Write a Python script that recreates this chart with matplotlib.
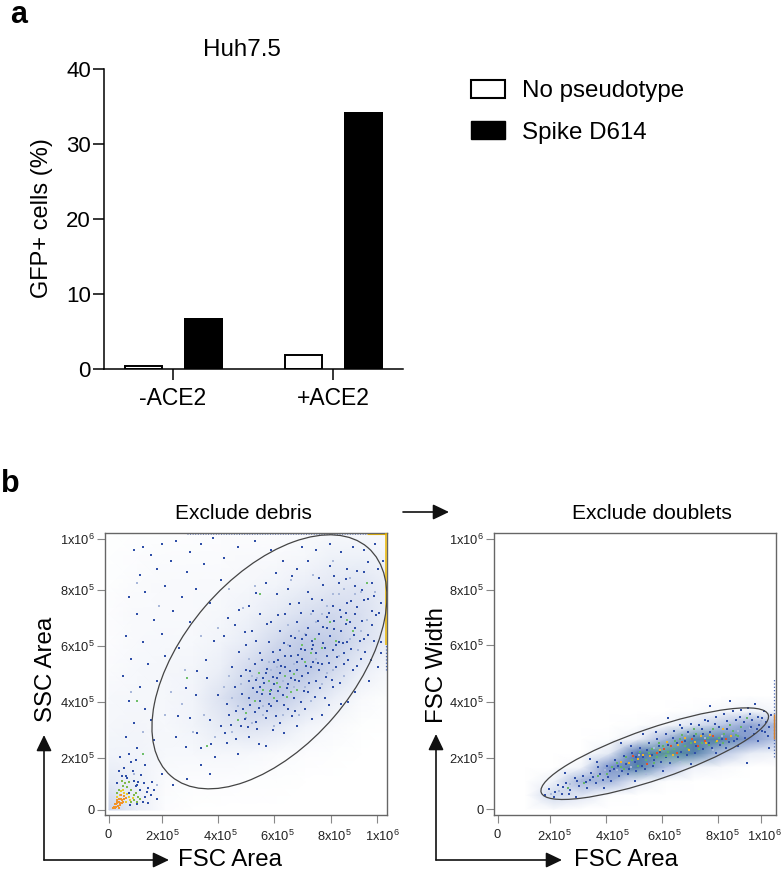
# bar chart of GFP+ cells plus the two flow gating plots

import matplotlib
matplotlib.use('Agg')
from matplotlib import pyplot as plt
from matplotlib.colors import LinearSegmentedColormap
from matplotlib.patches import Ellipse, Patch
from matplotlib.transforms import ScaledTranslation
import numpy as np

plt.rcParams['font.family'] = ['Liberation Sans', 'DejaVu Sans']
plt.rcParams['mathtext.fontset'] = 'custom'
plt.rcParams['mathtext.rm'] = 'Liberation Sans'
plt.rcParams['mathtext.default'] = 'regular'

W, H = 782, 871

# panel a
groups = ['-ACE2', '+ACE2']
no_pseudotype = [0.4, 1.8]
spike_d614 = [6.7, 34.2]

# flow axes, values in units of 1e5
flow_tick_labels = ['0', '2x10$^{5}$', '4x10$^{5}$', '6x10$^{5}$', '8x10$^{5}$', '1x10$^{6}$']
left_xticks = [0, 1.89, 3.89, 5.89, 7.93, 9.57]
left_yticks = [0, 1.86, 3.86, 5.86, 7.86, 9.68]
right_xticks = [0, 1.88, 3.88, 5.86, 7.88, 9.40]
right_yticks = [0, 1.82, 3.82, 5.86, 7.82, 9.64]

# estimated density of events per cell
debris_x = [0, 1, 2, 3, 4, 5, 6, 7, 8, 9, 10]
debris_y = [0, 1, 2, 3, 4, 5, 6, 7, 8, 9, 10]
debris_density = [
    [3.0, 1.2, 0.2, 0.0, 0.0, 0.0, 0.0, 0.0, 0.0, 0.0, 0.0],
    [1.5, 1.0, 0.3, 0.2, 0.2, 0.1, 0.1, 0.0, 0.0, 0.0, 0.0],
    [0.8, 0.8, 0.5, 0.5, 0.6, 0.5, 0.3, 0.2, 0.1, 0.0, 0.0],
    [0.6, 0.7, 0.5, 0.8, 1.5, 2.0, 1.6, 0.8, 0.4, 0.1, 0.0],
    [0.5, 0.6, 0.6, 0.8, 2.0, 3.4, 3.6, 2.4, 1.2, 0.4, 0.1],
    [0.3, 0.5, 0.6, 0.7, 1.2, 2.6, 3.8, 3.8, 2.6, 1.2, 0.5],
    [0.2, 0.4, 0.5, 0.5, 0.8, 1.4, 2.6, 3.6, 3.4, 2.2, 1.2],
    [0.2, 0.4, 0.4, 0.4, 0.6, 0.9, 1.5, 2.2, 2.6, 2.2, 1.2],
    [0.1, 0.3, 0.4, 0.4, 0.4, 0.6, 0.8, 1.2, 1.6, 1.8, 1.2],
    [0.1, 0.2, 0.3, 0.3, 0.3, 0.4, 0.4, 0.6, 1.0, 1.0, 0.8],
    [0.0, 0.1, 0.1, 0.1, 0.2, 0.2, 0.2, 0.3, 0.4, 0.4, 0.3],
]
doublets_x = [1, 2, 3, 4, 5, 6, 7, 8, 9, 10]
doublets_y = [0, 0.5, 1, 1.5, 2, 2.5, 3, 3.5, 4]
doublets_density = [
    [0.0, 0.2, 0.0, 0.0, 0.0, 0.0, 0.0, 0.0, 0.0, 0.0],
    [0.0, 1.4, 0.9, 0.1, 0.0, 0.0, 0.0, 0.0, 0.0, 0.0],
    [0.0, 0.5, 2.4, 2.4, 0.7, 0.1, 0.0, 0.0, 0.0, 0.0],
    [0.0, 0.0, 0.4, 3.2, 4.6, 2.2, 0.5, 0.2, 0.0, 0.0],
    [0.0, 0.0, 0.0, 0.8, 4.2, 5.4, 4.6, 2.0, 0.7, 0.4],
    [0.0, 0.0, 0.0, 0.1, 0.6, 2.4, 4.8, 4.6, 3.0, 2.0],
    [0.0, 0.0, 0.0, 0.0, 0.1, 0.3, 1.0, 2.0, 2.8, 2.2],
    [0.0, 0.0, 0.0, 0.0, 0.0, 0.0, 0.1, 0.3, 0.5, 0.3],
    [0.0, 0.0, 0.0, 0.0, 0.0, 0.0, 0.0, 0.0, 0.1, 0.0],
]

# single events picked out by eye
debris_blue = [
    (0.9,9.3),(1.2,9.4),(1.5,9.1),(1.9,9.5),(2.4,9.6),(2.9,9.2),(3.3,9.5),(3.7,9.7),(1.1,8.4),(1.7,8.6),
    (2.2,8.9),(2.8,8.5),(3.4,8.8),(4.1,9.0),(4.6,9.4),(5.2,9.6),(5.8,9.3),(0.7,7.6),(1.3,7.8),(2.0,8.0),
    (2.6,7.6),(3.1,7.9),(3.6,7.4),(4.0,8.2),(1.0,7.0),(1.6,6.8),(2.3,7.1),(2.9,6.7),(0.6,6.2),(1.2,6.0),
    (1.9,6.3),(2.5,5.8),(0.8,5.4),(1.4,5.2),(2.0,5.5),(0.5,4.8),(1.1,4.4),(1.7,4.6),(0.7,3.9),(1.3,3.6),
    (0.9,3.1),(1.5,3.2),(0.6,2.6),(1.0,2.2),(1.6,2.5),(0.8,1.7),(1.3,1.6),(1.9,1.3),(0.6,1.2),(1.0,0.9),
    (1.4,0.8),(0.7,0.6),(2.3,0.9),(2.8,1.1),(3.3,1.6),(3.6,1.3),(2.4,2.6),(2.9,3.3),(3.3,2.2),(3.8,1.9),
    (4.2,2.4),(4.6,2.0),(3.1,4.1),(3.6,3.2),(4.0,3.0),(4.3,3.4),(4.7,3.0),(5.0,2.6),(5.3,2.9),(5.6,2.3),
    (3.5,4.7),(3.9,4.1),(4.2,3.8),(4.5,4.4),(4.8,3.6),(5.0,4.0),(5.2,3.5),(5.4,3.9),(5.6,3.3),(5.8,3.7),
    (6.1,3.1),(6.4,3.6),(6.7,3.0),(7.0,3.6),(4.4,5.1),(4.7,4.8),(5.0,4.6),(5.2,5.2),(5.4,4.4),(5.6,4.9),
    (5.8,4.3),(6.0,4.7),(6.2,4.1),(6.4,4.5),(6.6,4.0),(6.8,4.6),(7.1,4.2),(7.4,4.6),(7.7,4.0),(8.0,4.4),
    (4.1,6.2),(4.5,6.6),(4.9,5.9),(5.1,6.4),(5.4,5.6),(5.7,6.0),(5.9,5.3),(6.1,5.7),(6.3,5.1),(6.5,5.5),
    (6.7,5.0),(6.9,5.4),(7.1,4.9),(7.3,5.3),(7.5,5.0),(7.8,5.5),(8.1,5.1),(8.4,5.6),(8.7,5.0),(9.0,5.4),
    (5.0,7.3),(5.4,7.0),(5.8,6.7),(6.1,6.4),(6.3,7.0),(6.5,6.2),(6.7,6.7),(6.9,6.1),(7.1,6.5),(7.3,5.9),
    (7.5,6.3),(7.7,5.8),(7.9,6.2),(8.1,5.9),(8.3,6.4),(8.5,6.0),(8.8,6.5),(9.1,6.1),(9.4,6.6),(9.7,6.0),
    (5.6,8.1),(6.0,7.7),(6.4,7.9),(6.8,7.4),(7.1,7.8),(7.3,7.1),(7.6,7.5),(7.8,6.9),(8.0,7.3),(8.3,6.9),
    (8.5,7.4),(8.8,7.0),(9.1,7.5),(9.4,7.1),(9.7,7.4),(6.2,8.9),(6.7,8.6),(7.1,8.9),(7.5,8.3),(7.9,8.7),
    (8.2,8.1),(8.5,8.6),(8.8,8.0),(9.1,8.5),(9.4,8.1),(9.6,8.6),(6.9,9.4),(7.4,9.3),(7.9,9.5),(8.3,9.2),
    (8.7,9.4),(9.1,9.3),(9.5,9.5),(9.8,8.9),(9.7,5.6),(9.6,5.1),(9.3,4.6),(8.8,4.2),(8.3,3.8),(7.6,3.4),
    (4.9,5.0),(5.3,4.2),(5.5,4.7),(5.7,3.8),(5.9,4.5),(6.1,4.9),(6.3,5.5),(6.5,4.7),(6.7,5.3),(6.9,4.8),
    (7.0,5.7),(7.2,5.1),(7.4,5.6),(7.6,5.2),(7.8,6.5),(8.0,5.7),(8.2,6.0),(8.4,5.2),(8.6,6.7),(6.0,3.9),
    (4.35,3.05),(4.55,3.55),(4.75,4.15),(4.85,3.25),(5.05,3.75),(5.15,4.35),(5.25,3.15),(5.35,3.65),(5.45,4.15),(5.55,4.55),
    (5.65,3.55),(5.75,4.15),(5.85,4.75),(5.95,3.35),(6.05,4.25),(6.15,5.15),(6.25,3.75),(6.35,4.35),(6.45,4.95),(6.55,3.35),
    (6.65,4.65),(6.75,5.55),(6.85,3.85),(6.95,4.25),(7.05,5.15),(7.15,4.55),(7.25,5.75),(7.35,4.05),(7.45,5.25),(7.55,4.35),
    (7.65,5.95),(7.75,4.75),(7.85,5.25),(7.95,4.65),(8.05,6.45),(8.15,5.45),(8.25,4.55),(8.35,5.95),(8.45,6.65),(8.55,5.35),
    (8.65,5.75),(8.75,6.25),(8.85,5.15),(8.95,6.05),(9.05,6.75),(9.15,5.65),(9.25,6.25),(9.35,5.35),(9.45,6.05),(9.55,6.95),
    (5.05,4.95),(5.25,4.65),(5.45,5.35),(5.65,5.05),(5.85,5.65),(6.05,5.35),(6.25,5.95),(6.45,5.85),(6.65,6.15),(6.85,5.75),
    (7.05,6.25),(7.25,6.05),(7.45,6.75),(7.65,6.55),(7.85,7.05),(8.05,6.75),(8.25,7.15),(8.45,7.05),(8.65,7.45),(8.85,7.25),
    (9.05,7.85),(9.25,7.55),(9.45,7.65),(9.65,7.05),(4.65,5.65),(4.85,6.35),(5.25,6.05),(5.65,6.65),(6.05,6.95),(6.45,7.35),
    (6.85,7.05),(7.25,7.55),(7.65,8.05),(8.05,8.35),(8.45,8.25),(8.85,8.55),(9.25,8.85),(6.55,8.35),(5.95,8.45),(5.25,7.75),
    (4.65,7.15),(4.25,6.85),(3.75,6.05),(3.45,5.35),(3.15,4.95),(2.75,4.35),(2.45,3.35),(2.75,2.25),(3.15,2.75),(3.65,2.35),
    (4.15,2.75),(4.55,2.55),(4.95,2.95),(5.35,2.35),(5.85,2.85),(6.25,2.75),(6.65,3.55),(7.25,3.25),(7.85,3.75),(8.55,3.85),
]
debris_pale = [
    (3.4,3.4),(3.8,2.6),(4.1,4.4),(4.4,2.8),(4.6,3.7),(4.9,3.3),(5.1,3.1),(5.3,4.7),(5.5,3.4),(5.7,5.3),
    (5.9,3.0),(6.2,3.4),(6.4,5.9),(6.6,4.4),(6.8,3.4),(7.0,6.3),(7.2,3.9),(7.4,6.7),(7.6,4.5),(7.8,7.3),
    (8.0,5.0),(8.2,7.7),(8.4,4.8),(8.6,8.3),(8.9,5.7),(9.2,6.8),(9.5,7.8),(9.0,7.8),(8.0,8.9),(6.5,8.2),
    (5.2,8.0),(4.8,7.2),(4.3,7.9),(3.9,6.5),(3.3,6.2),(2.7,5.0),(2.2,4.2),(2.6,3.8),(3.0,2.8),(2.0,3.4),
    (1.0,8.1),(1.8,7.3),(0.8,4.2),(1.2,2.8),(0.9,1.3),(1.7,0.9),(7.3,8.4),(6.0,5.1),(5.0,5.4),(4.4,4.0),
    (4.3,4.8),(4.7,4.5),(5.1,4.8),(5.5,3.7),(5.8,5.0),(6.2,4.6),(6.6,5.2),(7.0,4.4),(7.4,5.4),(7.8,4.9),
    (8.2,5.5),(8.6,6.1),(9.0,6.4),(6.4,6.6),(6.8,6.4),(7.2,7.0),(7.6,7.0),(8.0,7.7),(8.4,7.9),(8.8,7.7),
]
debris_green = [
    (5.2,3.9),(5.5,4.3),(5.7,4.6),(5.9,4.0),(6.1,4.4),(6.3,4.8),(6.5,4.2),(6.7,4.3),(4.6,3.2),(6.9,5.9),
    (7.2,5.6),(7.6,5.8),(7.9,6.7),(8.5,6.8),(9.2,8.1),(5.4,7.7),(3.5,2.3),(2.8,4.7),(1.0,3.9),(1.2,2.0),
    (5.35,4.9),(5.75,4.25),(6.0,4.55),(6.35,4.05),(6.6,4.85),(7.0,5.3),(7.35,6.1),(8.1,6.05),(8.7,6.4),(4.9,3.45),
]
debris_warm = [
    (0.18,0.12),(0.25,0.2),(0.32,0.14),(0.28,0.3),(0.4,0.26),(0.35,0.4),(0.48,0.36),(0.55,0.5),(0.44,0.52),(0.62,0.42),
    (0.22,0.08),(0.3,0.24),(0.38,0.18),(0.5,0.3),(0.2,0.2),(0.26,0.1),(0.34,0.28),(0.42,0.38),(0.3,0.36),(0.46,0.24),
    (0.15,0.06),(0.36,0.08),(0.54,0.38),
]
debris_low_yellow = [
    (0.55,0.62),(0.72,0.48),(0.42,0.66),(0.66,0.56),(0.6,0.3),(0.75,0.36),(0.38,0.55),(0.5,0.72),(0.85,0.44),(0.28,0.46),
]
debris_low_green = [
    (0.5,0.85),(0.65,0.82),(0.8,0.7),(0.95,0.62),(0.78,0.3),(0.9,0.34),(0.35,0.72),(0.58,0.95),(1.05,0.45),(0.7,1.0),
    (0.3,0.62),(1.0,0.3),(1.12,0.4),(0.88,0.55),(0.45,1.05),
]
debris_low_blue = [
    (0.3,0.95),(0.45,1.2),(0.9,1.05),(1.1,0.7),(1.3,0.45),(1.2,0.28),(1.0,0.2),(0.75,0.18),(1.5,0.55),(0.85,1.4),
    (1.7,0.4),(0.55,1.5),(0.4,1.9),(0.95,1.8),(1.15,1.25),(0.65,1.15),(1.05,1.0),(1.35,0.65),(1.4,0.25),(1.6,0.7),
    (0.7,2.0),(0.35,1.4),(1.25,0.95),(0.95,0.85),(1.55,1.0),
]

doublets_blue = [
    (1.7,0.5),(1.85,0.72),(2.0,0.42),(2.15,0.85),(2.3,0.55),(2.45,0.95),(2.6,0.7),(2.75,1.1),(2.9,0.82),(3.05,1.2),
    (3.2,0.75),(3.35,1.3),(3.5,0.95),(3.6,1.5),(3.75,1.05),(3.9,1.55),(4.05,1.0),(4.2,1.75),(4.35,1.2),(4.5,1.9),
    (4.65,1.25),(4.8,2.0),(4.95,1.35),(5.1,2.2),(5.25,1.45),(5.4,2.35),(5.55,1.55),(5.7,2.5),(5.85,1.7),(6.0,2.7),
    (6.15,1.65),(6.3,2.8),(6.45,1.85),(6.6,2.9),(6.75,1.95),(6.9,3.05),(7.05,2.0),(7.2,3.0),(7.35,2.15),(7.5,3.15),
    (7.65,2.2),(7.8,3.3),(7.95,2.3),(8.1,3.4),(8.25,2.4),(8.4,3.5),(8.55,2.5),(8.7,3.55),(8.85,2.55),(9.0,3.4),
    (9.15,2.7),(9.3,3.3),(9.45,2.8),(9.6,3.1),(3.4,1.15),(4.0,1.35),(4.6,1.6),(5.2,1.85),(5.8,2.05),(6.4,2.35),
    (7.0,2.6),(7.6,2.75),(8.2,2.85),(8.8,3.1),(9.35,3.0),(4.3,1.55),(4.9,1.7),(5.5,1.95),(6.1,2.3),(6.7,2.45),
    (7.3,2.85),(7.9,2.95),(8.5,3.2),(9.1,3.2),(9.55,2.75),(9.7,2.95),(9.75,3.35),(9.5,3.5),(9.2,3.75),(8.3,3.85),
    (7.6,3.7),(6.1,3.25),(5.2,2.7),(4.4,2.35),(3.3,1.8),(2.4,1.3),(8.6,2.25),(7.8,2.0),(6.9,1.6),(5.9,1.35),
    (4.9,1.0),(3.8,0.75),(2.8,0.45),(9.3,2.45),(8.9,1.65),(9.7,2.2),
    (2.05,0.62),(2.35,0.78),(2.55,0.55),(2.85,1.0),(3.15,0.98),(3.3,1.05),(3.65,1.25),(3.95,1.15),(4.15,1.45),(4.45,1.35),
    (4.7,1.45),(4.95,1.85),(5.15,1.55),(5.35,2.1),(5.6,1.75),(5.75,2.25),(6.0,1.85),(6.25,2.55),(6.55,2.05),(6.8,2.75),
    (7.1,2.25),(7.35,2.7),(7.55,2.35),(7.75,3.05),(8.0,2.5),(8.2,3.15),(8.45,2.45),(8.65,3.3),(8.85,2.8),(9.05,2.95),
    (9.25,2.85),(9.45,3.25),(9.65,2.6),(8.95,3.6),(8.15,2.2),(7.4,3.2),(6.5,3.0),(5.65,2.75),(4.75,2.25),(3.55,1.7),
]
doublets_pale = [
    (1.9,0.55),(2.2,0.65),(2.6,0.9),(3.0,1.05),(3.45,1.25),(3.85,1.4),(4.25,1.4),(4.75,1.5),(5.05,1.95),(5.6,2.2),
    (6.2,2.6),(6.8,2.7),(7.4,2.55),(8.0,2.6),(8.6,2.8),(9.0,2.9),(9.4,3.15),(5.3,1.25),(6.5,1.7),(7.7,2.1),(8.2,2.1),
]
doublets_green = [
    (2.5,0.75),(3.1,0.95),(3.6,1.2),(4.1,1.5),(4.5,1.45),(4.8,1.75),(5.0,1.55),(5.3,1.75),(5.5,2.15),(5.7,1.85),
    (5.9,2.25),(6.1,2.05),(6.3,2.15),(6.5,2.5),(6.7,2.25),(6.9,2.35),(7.1,2.7),(7.3,2.35),(7.5,2.55),(7.7,2.85),
    (7.9,2.55),(8.1,2.7),(8.3,3.0),(8.5,2.65),(8.7,2.95),(4.6,1.85),(5.1,2.05),(6.0,1.9),(6.6,2.65),(7.2,2.15),
    (7.8,2.4),(8.4,2.8),(8.9,3.25),(3.9,1.25),(5.6,1.65),(4.25,1.65),(4.4,1.5),(5.4,2.0),(5.75,2.35),(6.35,2.45),
    (6.8,2.15),(7.0,2.85),(7.55,2.3),(8.05,2.35),(8.6,2.6),
]
doublets_yellow = [
    (4.7,1.65),(5.2,1.95),(5.45,1.9),(5.8,2.1),(6.05,2.4),(6.25,1.95),(6.45,2.3),(6.7,2.55),(6.85,2.1),(7.05,2.4),
    (7.25,2.6),(7.45,2.35),(7.6,2.65),(7.85,2.45),(8.05,2.85),(8.35,2.6),(5.0,1.8),(4.4,1.7),
]
doublets_red = [
    (5.35,1.6),(5.7,2.0),(5.95,2.15),(6.2,2.25),(6.4,2.0),(6.6,2.4),(6.95,2.5),(7.15,2.25),(7.4,2.45),(7.7,2.6),(8.15,2.5),(4.85,1.9),
]

# gates: centre, width, height, angle
debris_gate = (5.73, 5.29, 10.77, 6.06, 49.3)
doublets_gate = (5.61, 1.98, 8.57, 1.83, 18.9)

density_blues = LinearSegmentedColormap.from_list(
    'pale', ['#ffffff', '#d3dbee', '#a5b5dc'])
density_full = LinearSegmentedColormap.from_list(
    'flow', ['#ffffff', '#b8c6e4', '#4f6fb8', '#5fa88a', '#a8c860', '#e8c040'])


def ax_px(left, top, right, bottom):
    return [left / W, 1 - bottom / H, (right - left) / W, (bottom - top) / H]


def dots(ax, pts, color, size=2.0):
    xs, ys = np.array(pts).T
    ax.scatter(xs, ys, s=size, marker='s', color=color, linewidths=0, zorder=3)


def flow_axes(rect, xticks, yticks, xlim, ylim, label_shift):
    ax = fig.add_axes(ax_px(*rect))
    ax.set_xlim(*xlim)
    ax.set_ylim(*ylim)
    ax.set_xticks(xticks, flow_tick_labels)
    ax.set_yticks(yticks, flow_tick_labels)
    ax.tick_params(length=6, width=0.8, color='#888888', labelsize=9.3,
                   labelcolor='#222222')
    ax.tick_params(axis='x', pad=4)
    ax.tick_params(axis='y', pad=1.5)
    for lab, dx in zip(ax.get_xticklabels(), label_shift):
        lab.set_transform(lab.get_transform() + ScaledTranslation(dx / 100, 0, fig.dpi_scale_trans))
    for s in ax.spines.values():
        s.set_color('#666666')
        s.set_linewidth(1.0)
    return ax


def gate(ax, g):
    ax.add_patch(Ellipse((g[0], g[1]), g[2], g[3], angle=g[4], fill=False,
                         edgecolor='#444444', linewidth=0.9, zorder=5))


def arrow(start, end, lw=1.2):
    fig.add_artist(plt.Annotation(
        '', xy=(end[0] / W, 1 - end[1] / H), xytext=(start[0] / W, 1 - start[1] / H),
        xycoords='figure fraction', textcoords='figure fraction',
        arrowprops=dict(arrowstyle='-|>,head_length=0.75,head_width=0.36', color='#111111',
                        lw=lw, shrinkA=0, shrinkB=0, mutation_scale=13)))


fig = plt.figure(figsize=(W / 100, H / 100), dpi=100)

# bars
ax = fig.add_axes(ax_px(104, 68.5, 403, 368.5))
x = np.arange(len(groups))
ax.bar(x - 0.184, no_pseudotype, 0.235, color='white', edgecolor='black', linewidth=1.4, label='No pseudotype')
ax.bar(x + 0.19, spike_d614, 0.245, color='black', linewidth=0, label='Spike D614')
ax.set_xlim(-0.43, 1.4375)
ax.set_ylim(0, 40)
ax.set_xticks(x, groups)
ax.set_yticks([0, 10, 20, 30, 40])
ax.tick_params(length=8, width=1.1, labelsize=16, pad=1.5)
ax.tick_params(axis='x', labelsize=16.5, pad=5)
ax.spines['top'].set_visible(False)
ax.spines['right'].set_visible(False)
ax.spines['left'].set_linewidth(1.1)
ax.spines['bottom'].set_linewidth(1.1)
ax.set_ylabel('GFP+ cells (%)', fontsize=17, labelpad=9)
ax.set_title('Huh7.5', fontsize=17.4, pad=9, x=0.462)
handles = [Patch(facecolor='white', edgecolor='black', linewidth=1.5), Patch(facecolor='black', edgecolor='black')]
fig.legend(handles, ['No pseudotype', 'Spike D614'], loc='upper left',
           bbox_to_anchor=(471 / W, 1 - 80 / H), fontsize=17.4, frameon=False,
           handlelength=1.4, handleheight=0.75, handletextpad=0.7, labelspacing=0.79,
           borderpad=0, borderaxespad=0)

# debris gate
ax1 = flow_axes((105.5, 533, 387, 815), left_xticks, left_yticks, (-0.125, 9.93), (-0.18, 9.89),
                [-1, 0, 2, 3, 3, 5])
ax1.pcolormesh(debris_x, debris_y, debris_density, shading='gouraud', cmap=density_blues, vmin=0, vmax=5, zorder=1)
dots(ax1, debris_pale, '#a9b8da', 2.6)
dots(ax1, debris_blue, '#2f4fa8')
dots(ax1, debris_green, '#6fbf6a')
dots(ax1, debris_low_blue, '#2f4fa8')
dots(ax1, debris_low_green, '#7fb84a', 3)
dots(ax1, debris_low_yellow, '#e8cc30', 3.5)
dots(ax1, debris_warm, '#f0932b', 3.5)
ax1.vlines(9.88, 5.9, 9.89, color='#e8b400', linewidth=1.1, zorder=4)
ax1.vlines(9.88, 5.0, 5.9, color='#4a68b4', linewidth=0.9, linestyle=':', zorder=4)
ax1.hlines(9.84, 2.8, 9.2, color='#6f84bc', linewidth=0.7, linestyle=':', zorder=2)
ax1.hlines(9.85, 9.2, 9.9, color='#e8b400', linewidth=0.8, zorder=2)
gate(ax1, debris_gate)
ax1.set_title('Exclude debris', fontsize=15, pad=10, x=0.49)

# doublets gate
ax2 = flow_axes((494.3, 533, 775.7, 815), right_xticks, right_yticks, (-0.12, 9.93), (-0.21, 9.86),
                [-1, 4, 6, 3, 4, 4])
ax2.pcolormesh(doublets_x, doublets_y, doublets_density, shading='gouraud', cmap=density_full, vmin=0, vmax=10, zorder=1)
dots(ax2, doublets_pale, '#a9b8da', 2.6)
dots(ax2, doublets_blue, '#2f4fa8')
dots(ax2, doublets_green, '#63b36a', 2.4)
dots(ax2, doublets_yellow, '#f0b429', 2.6)
dots(ax2, doublets_red, '#e2502a', 2.2)
ax2.vlines(9.88, 1.85, 4.7, color='#4a68b4', linewidth=0.9, linestyle=':', zorder=4)
ax2.vlines(9.88, 2.5, 3.4, color='#d9822b', linewidth=1.0, zorder=4)
gate(ax2, doublets_gate)
ax2.set_title('Exclude doublets', fontsize=15.1, pad=10, x=0.56)

# labels outside the axes
fig.text(10 / W, 1 - 15 / H, 'a', fontsize=22, fontweight='bold', va='center')
fig.text(1 / W, 1 - 484 / H, 'b', fontsize=22, fontweight='bold', va='center')
fig.text(46 / W, 1 - 669 / H, 'SSC Area', fontsize=17.3, rotation=90, ha='center', va='center')
fig.text(437 / W, 1 - 665 / H, 'FSC Width', fontsize=17.3, rotation=90, ha='center', va='center')
fig.text(230 / W, 1 - 860 / H, 'FSC Area', fontsize=17.3, ha='center', va='center')
fig.text(626 / W, 1 - 860 / H, 'FSC Area', fontsize=17.3, ha='center', va='center')

# gating arrows
arrow((44, 860), (44, 735))
arrow((44, 860), (169, 860))
arrow((436, 860), (436, 734))
arrow((436, 860), (562, 860))
arrow((403, 512), (449, 512))

fig.savefig('out.png', dpi=100)
